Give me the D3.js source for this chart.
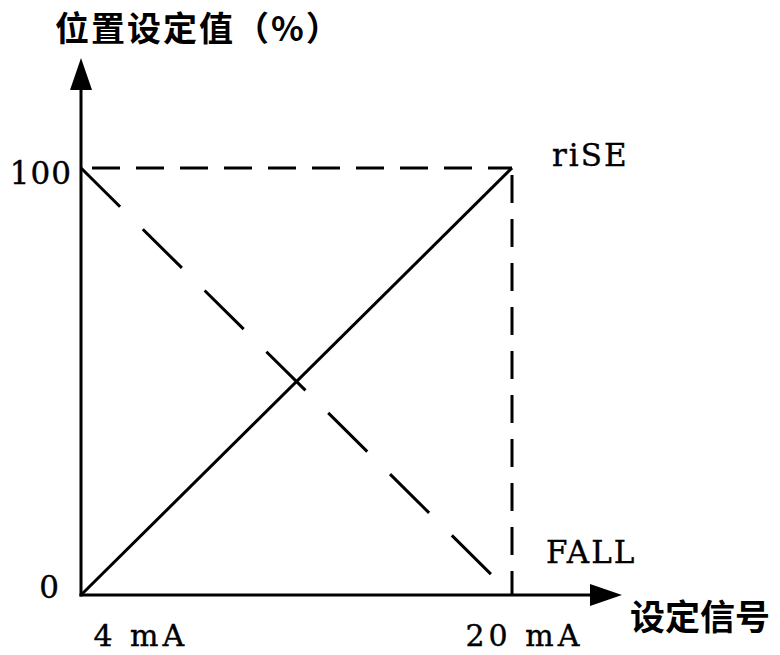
<!DOCTYPE html>
<html>
<head>
<meta charset="utf-8">
<script src="https://cdn.jsdelivr.net/npm/d3@7"></script>
<style>
  html, body { margin: 0; padding: 0; background: #fff; }
  svg { display: block; }
</style>
</head>
<body>
<svg id="chart" width="780" height="655"></svg>
<script>
// ---- data ----
const signal = [4, 20];                 // mA
const riseValues = [0, 100];            // % (riSE)
const fallValues = [100, 0];            // % (FALL)
const xTickLabels = ["4 mA", "20 mA"];
const yTickValues = [0, 100];
const yTickLabels = ["0", "100"];
const seriesNames = ["riSE", "FALL"];
const yTitle = "位置设定值（%）";
const xTitle = "设定信号";

// ---- layout ----
const svg = d3.select("#chart");
const x = d3.scaleLinear().domain([4, 20]).range([81, 512]);
const y = d3.scaleLinear().domain([0, 100]).range([595, 168]);
const serif = "'DejaVu Serif', 'Liberation Serif', serif";
const cjk = "'Noto Sans CJK SC', sans-serif";

// guides (dashed) at 100% and 20 mA
svg.append("line")
  .attr("x1", x(signal[0])).attr("y1", y(100))
  .attr("x2", x(signal[1])).attr("y2", y(100))
  .attr("stroke", "#000").attr("stroke-width", 3)
  .attr("stroke-dasharray", "28,16").attr("stroke-dashoffset", 33);
svg.append("line")
  .attr("x1", x(signal[1])).attr("y1", y(100))
  .attr("x2", x(signal[1])).attr("y2", y(0))
  .attr("stroke", "#000").attr("stroke-width", 3)
  .attr("stroke-dasharray", "28,16").attr("stroke-dashoffset", 37);

// series
const line = d3.line().x(d => x(d[0])).y(d => y(d[1]));
svg.append("path")
  .datum(d3.zip(signal, riseValues))
  .attr("d", line)
  .attr("fill", "none").attr("stroke", "#000").attr("stroke-width", 3);
svg.append("path")
  .datum(d3.zip(signal, fallValues))
  .attr("d", line)
  .attr("fill", "none").attr("stroke", "#000").attr("stroke-width", 3)
  .attr("stroke-dasharray", "55,32");

// axes lines with arrows
const x0 = x(signal[0]), y0 = y(0);
svg.append("line").attr("x1", x0).attr("y1", y0 + 1.5).attr("x2", x0).attr("y2", 88)
  .attr("stroke", "#000").attr("stroke-width", 3);
svg.append("path").attr("d", `M${x0},58 L${x0 - 11},90 L${x0 + 11},90 Z`).attr("fill", "#000");
svg.append("line").attr("x1", x0 - 1.5).attr("y1", y0).attr("x2", 592).attr("y2", y0)
  .attr("stroke", "#000").attr("stroke-width", 3);
svg.append("path").attr("d", `M622,${y0} L590,${y0 - 11} L590,${y0 + 11} Z`).attr("fill", "#000");

// x tick labels via axis
const xAxis = d3.axisBottom(x).tickValues(signal)
  .tickFormat((d, i) => xTickLabels[i]).tickSize(0).tickPadding(30);
const gx = svg.append("g").attr("transform", `translate(0,${y0})`).call(xAxis);
gx.select(".domain").remove();
gx.selectAll("text")
  .attr("font-family", serif).attr("font-size", 30).attr("fill", "#000")
  .attr("letter-spacing", 4).attr("stroke", "#000").attr("stroke-width", 0.4)
  .attr("text-anchor", "start")
  .attr("dx", (d, i) => [12, -47][i]);

// y tick labels via axis
const yAxis = d3.axisLeft(y).tickValues(yTickValues)
  .tickFormat((d, i) => yTickLabels[i]).tickSize(0).tickPadding(9);
const gy = svg.append("g").attr("transform", `translate(${x0},0)`).call(yAxis);
gy.select(".domain").remove();
gy.selectAll("text")
  .attr("font-family", serif).attr("font-size", 31).attr("fill", "#000")
  .attr("letter-spacing", 1).attr("stroke", "#000").attr("stroke-width", 0.4)
  .attr("dy", (d, i) => [2, 15][i] + "px")
  .attr("dx", (d, i) => [-12, 0][i]);

// series labels
svg.append("text").attr("x", x(20) + 40).attr("y", y(100) - 2)
  .attr("font-family", serif).attr("font-size", 31).attr("letter-spacing", 2)
  .attr("stroke", "#000").attr("stroke-width", 0.4)
  .text(seriesNames[0]);
svg.append("text").attr("x", x(20) + 34).attr("y", y(0) - 32)
  .attr("font-family", serif).attr("font-size", 31).attr("letter-spacing", 2)
  .attr("stroke", "#000").attr("stroke-width", 0.4)
  .text(seriesNames[1]);

// titles
svg.append("text").attr("x", 55).attr("y", 41)
  .attr("font-family", cjk).attr("font-size", 34).attr("font-weight", "bold")
  .attr("letter-spacing", 2)
  .text(yTitle);
svg.append("text").attr("x", 630).attr("y", 630)
  .attr("font-family", cjk).attr("font-size", 35).attr("font-weight", "bold")
  .text(xTitle);
</script>
</body>
</html>
